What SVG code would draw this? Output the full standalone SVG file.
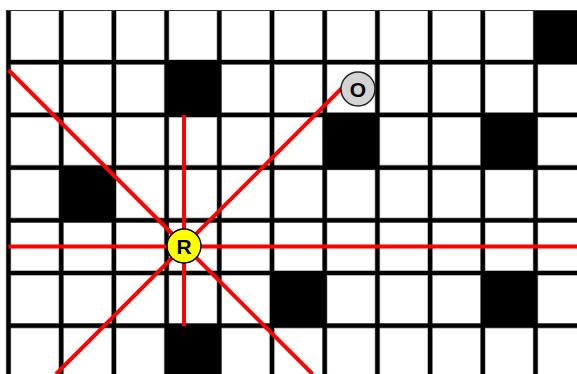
<svg xmlns="http://www.w3.org/2000/svg" width="577" height="374" viewBox="0 0 577 374">
<style>
.halo{stroke:#9a9a9a;stroke-width:5.5;fill:none}
.gl{stroke:#000;stroke-width:4.2;fill:none}
.blk{fill:#000}
.ray{stroke:#ff0000;stroke-width:4;fill:none}
.lbl{font-family:"Liberation Sans",Arial,sans-serif;font-weight:bold;font-size:21px;text-anchor:middle;dominant-baseline:central;fill:#000}
</style>
<rect x="0" y="0" width="577" height="374" fill="#fff"/>
<g id="grid-halo">
<path class="halo" d="M8.5 10V374M61.2 10V374M113.9 10V374M166.6 10V374M219.3 10V374M272 10V374M324.7 10V374M377.4 10V374M430.1 10V374M482.8 10V374M535.5 10V374M8.5 62.2H577M8.5 114.9H577M8.5 167.6H577M8.5 220.3H577M8.5 273H577M8.5 325.7H577"/>
</g>
<g id="cells">
<rect class="blk" x="535.5" y="10" width="45" height="52.2"/>
<rect class="blk" x="166.6" y="62.2" width="52.7" height="52.7"/>
<rect class="blk" x="324.7" y="114.9" width="52.7" height="52.7"/>
<rect class="blk" x="482.8" y="114.9" width="52.7" height="52.7"/>
<rect class="blk" x="61.2" y="167.6" width="52.7" height="52.7"/>
<rect class="blk" x="272" y="273" width="52.7" height="52.7"/>
<rect class="blk" x="482.8" y="273" width="52.7" height="52.7"/>
<rect class="blk" x="166.6" y="325.7" width="52.7" height="52.7"/>
</g>
<g id="grid">
<path class="gl" d="M8.5 10V374M61.2 10V374M113.9 10V374M166.6 10V374M219.3 10V374M272 10V374M324.7 10V374M377.4 10V374M430.1 10V374M482.8 10V374M535.5 10V374M6.5 62.2H577M6.5 114.9H577M6.5 167.6H577M6.5 220.3H577M6.5 273H577M6.5 325.7H577"/>
<line x1="6.5" y1="10.5" x2="577" y2="10.5" stroke="#333" stroke-width="1.2"/>
</g>
<g id="connectors">
<line class="ray" x1="8.5" y1="246.5" x2="577" y2="246.5"/>
<line class="ray" x1="184" y1="115" x2="184" y2="326"/>
<line class="ray" x1="8.5" y1="70" x2="312.5" y2="374"/>
<line class="ray" x1="56" y1="374" x2="342" y2="88"/>
</g>
<g id="node-R">
<circle cx="184" cy="246" r="17" fill="#ffff00" stroke="#000" stroke-width="1.5"/>
<text class="lbl" x="184" y="246">R</text>
</g>
<g id="node-O">
<circle cx="358" cy="89" r="17" fill="#d3d3d3" stroke="#222" stroke-width="1.5"/>
<text class="lbl" x="358" y="89">O</text>
</g>
</svg>
